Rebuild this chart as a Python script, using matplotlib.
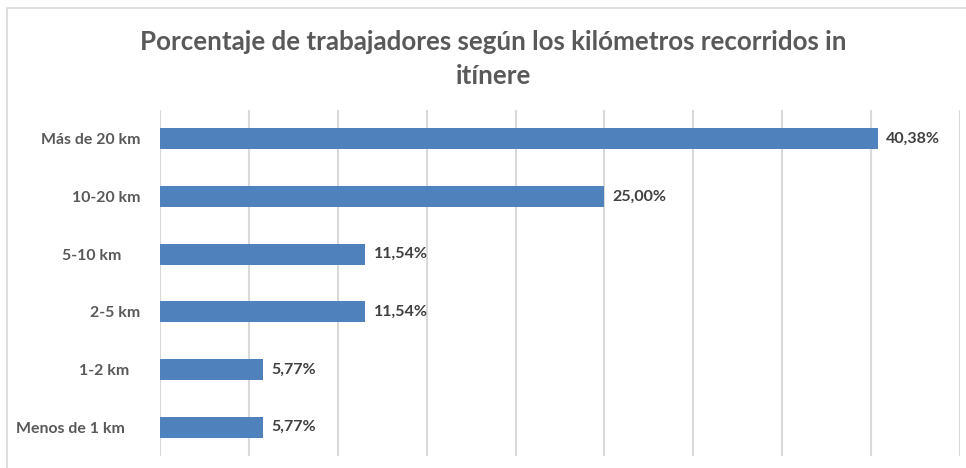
import matplotlib
matplotlib.use("Agg")
import matplotlib.pyplot as plt
from matplotlib.patches import Rectangle

# datos (de abajo hacia arriba)
categorias = ["Menos de 1 km    ", "1-2 km   ", "2-5 km", "5-10 km     ", "10-20 km", "Más de 20 km"]
porcentajes = [5.77, 5.77, 11.54, 11.54, 25.00, 40.38]
etiquetas = ["5,77%", "5,77%", "11,54%", "11,54%", "25,00%", "40,38%"]
titulo = "Porcentaje de trabajadores según los kilómetros recorridos in\nitínere"

plt.rcParams['font.family'] = ['Lato', 'DejaVu Sans']

W, H = 966, 468
fig = plt.figure(figsize=(W / 100, H / 100), dpi=100, facecolor='white')

# marco del area del grafico (sale por la derecha y por abajo)
fig.patches.append(Rectangle((7 / W, -0.1), 1.2, 1 - 8 / H + 0.1, transform=fig.transFigure,
                             fill=False, edgecolor='#D9D9D9', linewidth=1.2))

ax = fig.add_axes([160 / W, 1 - 456 / H, 800 / W, 346 / H])
y = range(len(categorias))
ax.barh(y, porcentajes, height=0.36, color='#4F81BD', zorder=3)

ax.set_xlim(0, 45)
ax.set_ylim(-0.5, len(categorias) - 0.5)
ax.set_xticks(range(0, 46, 5))
ax.set_xticklabels([])
ax.tick_params(axis='x', length=0)
ax.grid(axis='x', color='#D9D9D9', linewidth=1.5, zorder=0)
for s in ax.spines.values():
    s.set_visible(False)

ax.set_yticks(list(y))
ax.set_yticklabels(categorias, fontsize=11.4, fontweight='bold', color='#595959')
ax.tick_params(axis='y', length=0, pad=14)

for i, (v, t) in enumerate(zip(porcentajes, etiquetas)):
    ax.annotate(t, (v, i), xytext=(6, 0), textcoords='offset points', va='center', ha='left',
                fontsize=11.5, fontweight='bold', color='#404040')

fig.text(493 / W, 1 - 59 / H, titulo, ha='center', va='center', fontsize=18.6,
         fontweight='bold', color='#595959', linespacing=1.45)

fig.savefig("out.png", dpi=100, facecolor='white')
